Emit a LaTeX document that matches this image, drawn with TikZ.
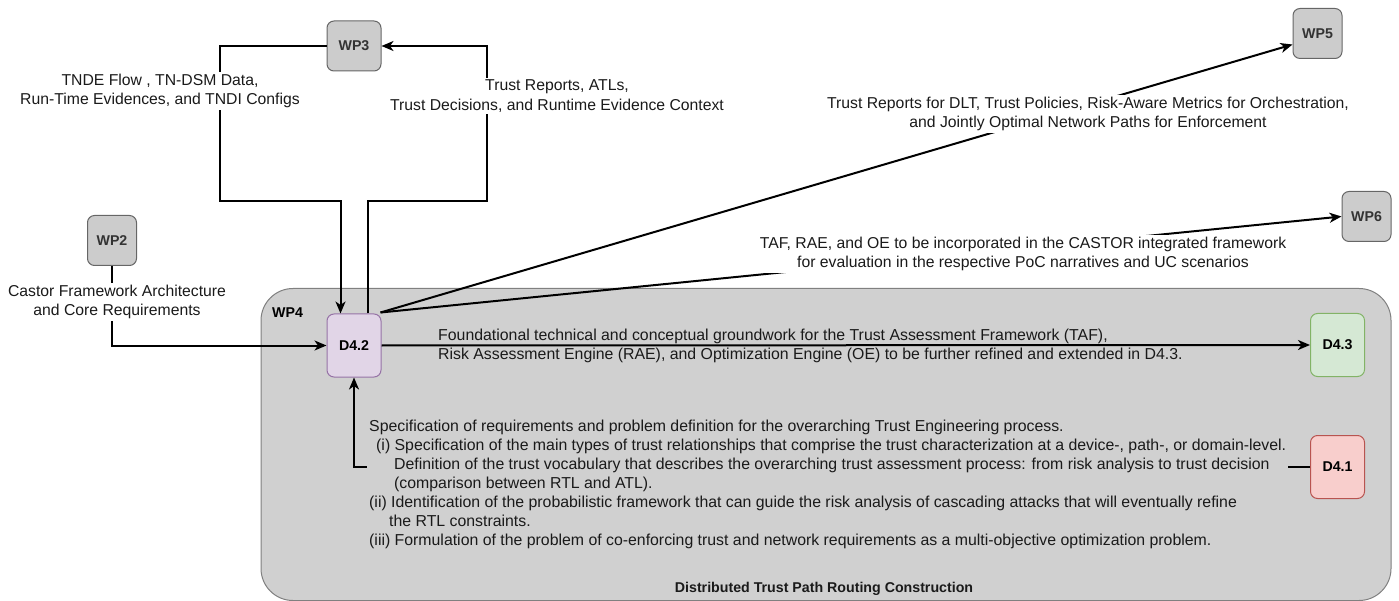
\documentclass[tikz,border=0pt]{standalone}
\usepackage{fontspec}
\setmainfont{Liberation Sans}
\usetikzlibrary{arrows.meta}
\definecolor{wpfill}{HTML}{CCCCCC}
\definecolor{wpdraw}{HTML}{666666}
\definecolor{wptext}{HTML}{333333}
\definecolor{contfill}{HTML}{D0D0D0}
\definecolor{contdraw}{HTML}{808080}
\definecolor{purfill}{HTML}{E1D5E7}
\definecolor{purdraw}{HTML}{9673A6}
\definecolor{grnfill}{HTML}{D5E8D4}
\definecolor{grndraw}{HTML}{82B366}
\definecolor{redfill}{HTML}{F8CECC}
\definecolor{reddraw}{HTML}{B85450}
\definecolor{txt}{HTML}{1A1A1A}
\begin{document}
\begin{tikzpicture}[x=1pt,y=-1pt,
  box/.style={draw, rounded corners=7pt, line width=1pt, minimum width=54pt, minimum height=50pt,
    inner sep=0pt, font=\fontsize{14.2pt}{17pt}\selectfont\bfseries},
  wpbox/.style={box, fill=wpfill, draw=wpdraw, text=wptext},
  dbox/.style={box, minimum height=63pt, text=black},
  arr/.style={line width=2pt, -{Stealth[length=12pt,width=10pt,inset=3.5pt]}},
  lab/.style={fill=white, inner sep=1.5pt, align=center, text=txt,
    font=\fontsize{15.75pt}{19.5pt}\selectfont},
  desc/.style={inner sep=0pt, align=left, text=txt,
    font=\fontsize{15.85pt}{18.9pt}\selectfont}]
\useasboundingbox (0,0) rectangle (1399,601);

% container
\node[draw=contdraw, fill=contfill, line width=1pt, rounded corners=32pt,
  minimum width=1130pt, minimum height=312pt, inner sep=0pt] (wp4) at (826,444.5) {};
\node[anchor=west, inner sep=0pt, font=\fontsize{14.2pt}{17pt}\selectfont\bfseries] (wp4lab) at (272,313) {WP4};
\node[inner sep=0pt, text=txt, font=\fontsize{14.2pt}{17pt}\selectfont\bfseries] (title) at (824,589) {Distributed Trust Path Routing Construction};

% nodes
\node[wpbox] (wp3) at (354,46) {WP3};
\node[wpbox, minimum width=49pt] (wp2) at (112,240.5) {WP2};
\node[wpbox, minimum width=49pt] (wp5) at (1317.5,33.5) {WP5};
\node[wpbox, minimum width=49pt] (wp6) at (1366.5,216.5) {WP6};
\node[dbox, fill=purfill, draw=purdraw] (d42) at (354,345.5) {D4.2};
\node[dbox, fill=grnfill, draw=grndraw] (d43) at (1337.5,345) {D4.3};
\node[dbox, fill=redfill, draw=reddraw] (d41) at (1337.5,467) {D4.1};

% helper coordinates
\coordinate (a2) at (220,201);
\coordinate (b1) at (487,201);

% connectors
\draw[arr] (wp3.west) -| (a2) -| ([xshift=-13.5pt]d42.north);
\draw[arr] ([xshift=13.5pt]d42.north) |- (b1) |- (wp3.east);
\draw[arr] (wp2.south) |- (d42.west);
\draw[arr] ([xshift=-1pt,yshift=1pt]d42.north east) -- ([yshift=-11pt]wp5.west);
\draw[arr] ([xshift=-1pt,yshift=1pt]d42.north east) -- (wp6.west);
\draw[arr] (d42.east) -- (d43.west);
\draw[arr] (d41.west) -| (d42.south);

% labels
\node[lab] (l3a) at (160,91) {TNDE Flow , TN-DSM Data,\\Run-Time Evidences, and TNDI Configs};
\node[lab] (l3b) at (557,96) {Trust Reports, ATLs,\\Trust Decisions, and Runtime Evidence Context};
\node[lab] (l2) at (117,302) {Castor Framework Architecture\\and Core Requirements};
\node[lab] (l5) at (1088,114) {Trust Reports for DLT, Trust Policies, Risk-Aware Metrics for Orchestration,\\and Jointly Optimal Network Paths for Enforcement};
\node[lab] (l6) at (1023,254) {TAF, RAE, and OE to be incorporated in the CASTOR integrated framework\\for evaluation in the respective PoC narratives and UC scenarios};
\node[desc, anchor=west] (l43) at (438,346) {Foundational technical and conceptual groundwork for the Trust Assessment Framework (TAF),\\Risk Assessment Engine (RAE), and Optimization Engine (OE) to be further refined and extended in D4.3.};
\node[desc, anchor=west, fill=contfill, inner xsep=2pt, inner ysep=1pt] (l41) at (367,484.5) {Specification of requirements and problem definition for the overarching Trust Engineering process.\\
\hspace*{7pt}(i) Specification of the main types of trust relationships that comprise the trust characterization at a device-, path-, or domain-level.\\
\hspace*{25pt}Definition of the trust vocabulary that describes the overarching trust assessment process: from risk analysis to trust decision\\
\hspace*{25pt}(comparison between RTL and ATL).\\
(ii) Identification of the probabilistic framework that can guide the risk analysis of cascading attacks that will eventually refine\\
\hspace*{20pt}the RTL constraints.\\
(iii) Formulation of the problem of co-enforcing trust and network requirements as a multi-objective optimization problem.};
\end{tikzpicture}
\end{document}
